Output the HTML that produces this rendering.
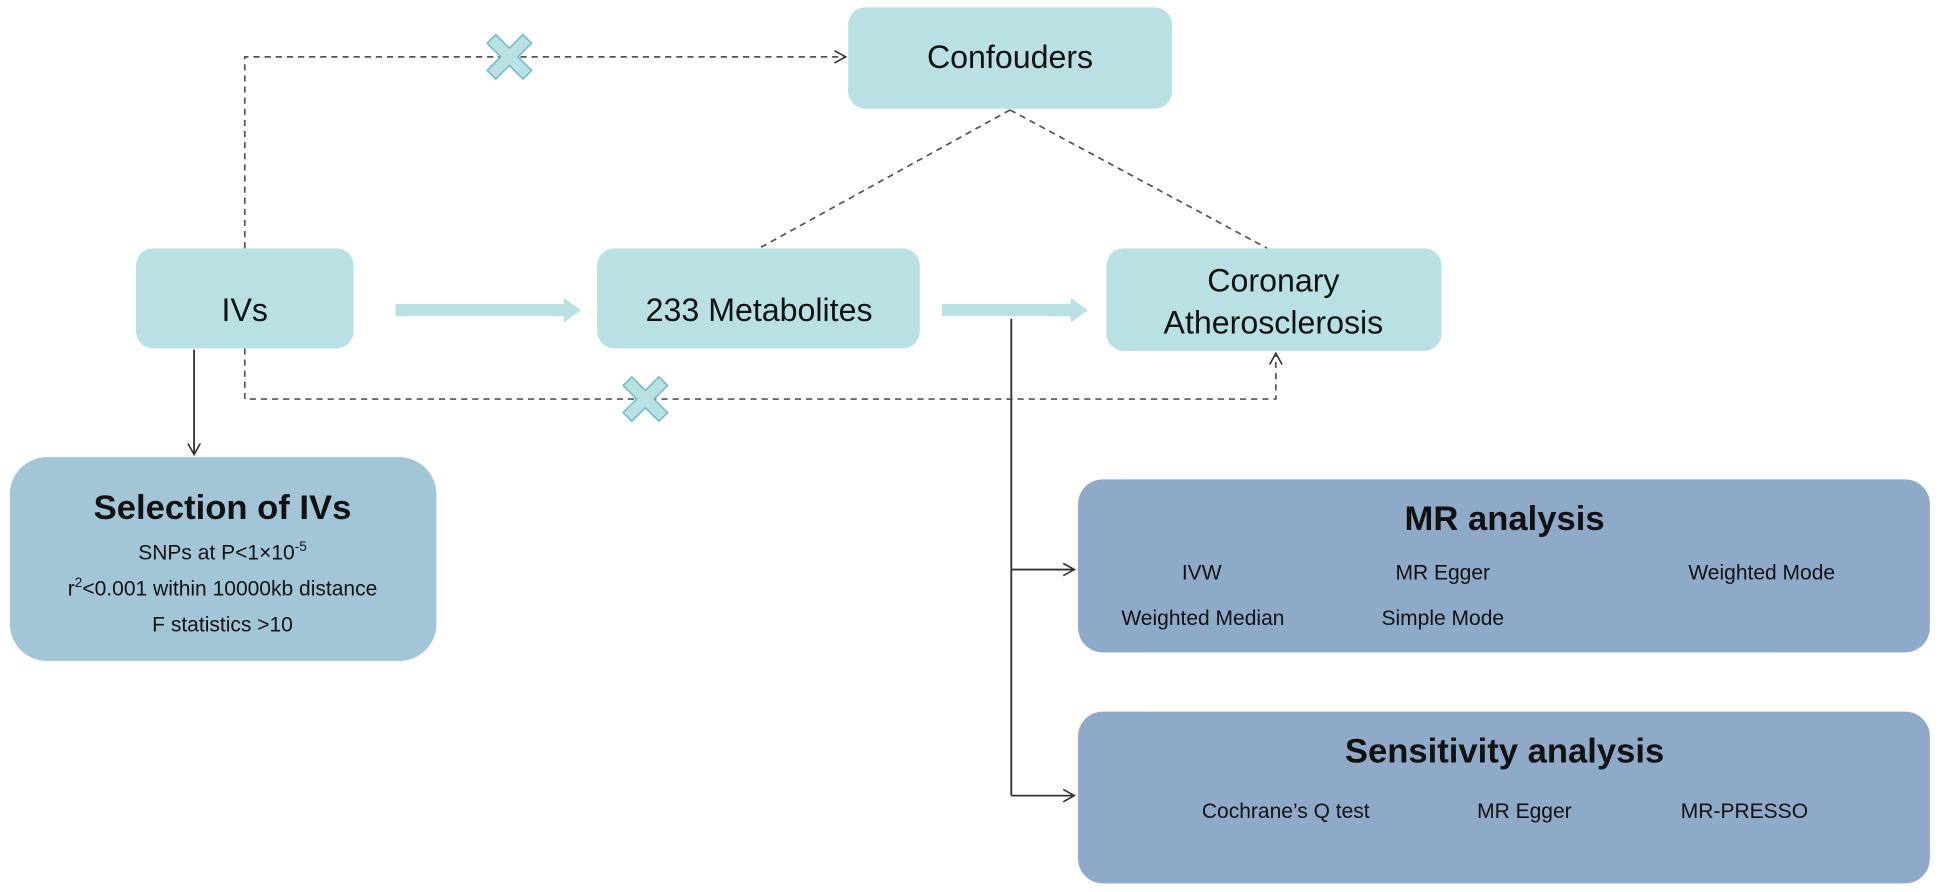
<!DOCTYPE html>
<html><head><meta charset="utf-8"><style>
html,body{margin:0;padding:0;background:#fff;}
svg{display:block;}
text{font-family:"Liberation Sans",Arial,sans-serif;fill:#111;}
</style></head><body>
<svg width="1941" height="892" viewBox="0 0 1570 722" preserveAspectRatio="none" xmlns="http://www.w3.org/2000/svg">
<defs>
<marker id="oa" markerWidth="12" markerHeight="12" refX="10" refY="6" orient="auto" markerUnits="userSpaceOnUse">
<path d="M1,1 L10,6 L1,11" fill="none" stroke="#333" stroke-width="1.3"/></marker>
</defs>
<g fill="none" stroke="#555" stroke-width="1.4" stroke-dasharray="5,4">
<path d="M198,201 L198,46 L684,46" marker-end="url(#oa)"/>
<path d="M198,282 L198,323 L1032,323 L1032,286" marker-end="url(#oa)"/>
<path d="M817,89 L614,201"/>
<path d="M817,89 L1025,201"/>
</g>
<g fill="#b9e0e3" stroke="#6fbcc3" stroke-width="1.2">
<path transform="translate(412,46)" d="M-18,-11 L-11,-18 L0,-7 L11,-18 L18,-11 L7,0 L18,11 L11,18 L0,7 L-11,18 L-18,11 L-7,0 Z"/>
<path transform="translate(522,323)" d="M-18,-11 L-11,-18 L0,-7 L11,-18 L18,-11 L7,0 L18,11 L11,18 L0,7 L-11,18 L-18,11 L-7,0 Z"/>
</g>
<g fill="none" stroke="#333" stroke-width="1.5">
<path d="M157,283 L157,368" marker-end="url(#oa)"/>
<path d="M818,258 L818,644"/>
<path d="M818,461 L869,461" marker-end="url(#oa)"/>
<path d="M818,644 L869,644" marker-end="url(#oa)"/>
</g>
<g fill="#b9e0e3">
<path d="M320,246 L456,246 L456,241 L470,251 L456,261 L456,256 L320,256 Z"/>
<path d="M762,246 L866,246 L866,241 L880,251 L866,261 L866,256 L762,256 Z"/>
</g>
<rect x="686" y="6" width="262" height="82" rx="14" fill="#b9e0e3"/>
<rect x="110" y="201" width="176" height="81" rx="14" fill="#b9e0e3"/>
<rect x="483" y="201" width="261" height="81" rx="14" fill="#b9e0e3"/>
<rect x="895" y="201" width="271" height="83" rx="14" fill="#b9e0e3"/>
<rect x="8" y="370" width="345" height="165" rx="30" fill="#a2c6d7"/>
<rect x="872" y="388" width="689" height="140" rx="20" fill="#8fa9c8"/>
<rect x="872" y="576" width="689" height="139" rx="20" fill="#8fa9c8"/>
<g text-anchor="middle">
<text x="817" y="55" font-size="26">Confouders</text>
<text x="198" y="251" font-size="26" dy="9">IVs</text>
<text x="614" y="251" font-size="26" dy="9">233 Metabolites</text>
<text x="1030" y="236" font-size="26">Coronary</text>
<text x="1030" y="270" font-size="26">Atherosclerosis</text>
<text x="180" y="420" font-size="28" font-weight="bold">Selection of IVs</text>
<text x="180" y="453" font-size="17">SNPs at P&lt;1×10<tspan font-size="11" dy="-7">-5</tspan></text>
<text x="180" y="482" font-size="17">r<tspan font-size="11" dy="-7">2</tspan><tspan dy="7">&lt;0.001 within 10000kb distance</tspan></text>
<text x="180" y="511" font-size="17">F statistics &gt;10</text>
<text x="1217" y="429" font-size="28" font-weight="bold">MR analysis</text>
<text x="972" y="469" font-size="17">IVW</text>
<text x="1167" y="469" font-size="17">MR Egger</text>
<text x="1425" y="469" font-size="17">Weighted Mode</text>
<text x="973" y="506" font-size="17">Weighted Median</text>
<text x="1167" y="506" font-size="17">Simple Mode</text>
<text x="1217" y="617" font-size="28" font-weight="bold">Sensitivity analysis</text>
<text x="1040" y="662" font-size="17">Cochrane’s Q test</text>
<text x="1233" y="662" font-size="17">MR Egger</text>
<text x="1411" y="662" font-size="17">MR-PRESSO</text>
</g>
</svg>
</body></html>
